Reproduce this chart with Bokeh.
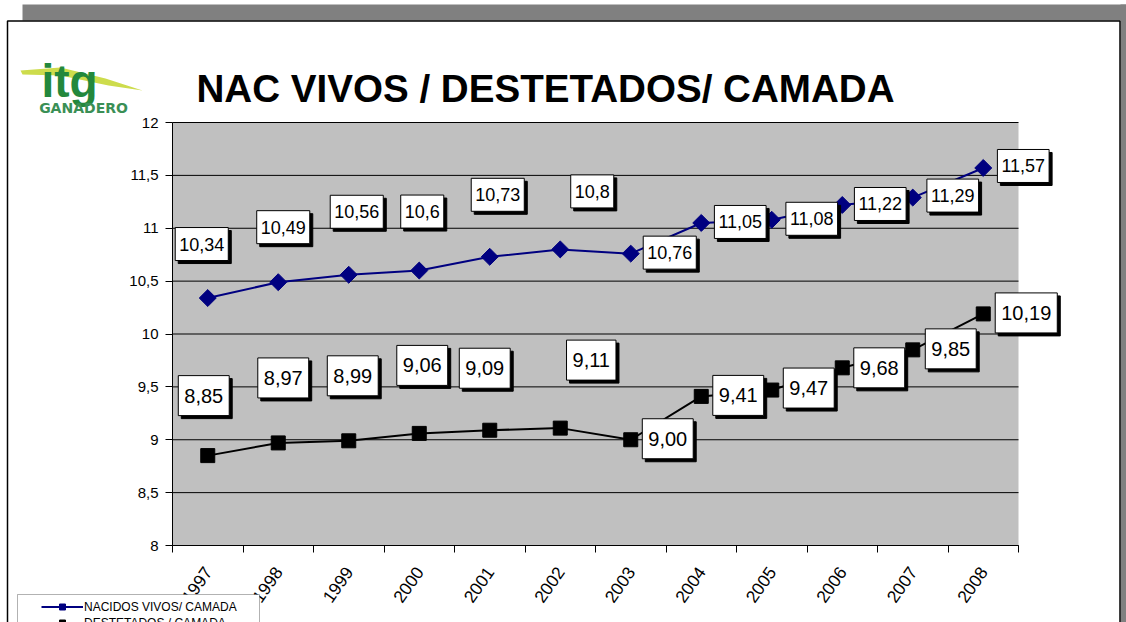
import math
from bokeh.plotting import figure
from bokeh.models import (ColumnDataSource, Label, Legend, LegendItem, LinearAxis,
                          FixedTicker, Range1d, CustomJSTickFormatter, BoxAnnotation)
from bokeh.embed import file_html
from bokeh.resources import INLINE
from bokeh.core.properties import value

# ---------------- data ----------------
years = ["1997", "1998", "1999", "2000", "2001", "2002",
         "2003", "2004", "2005", "2006", "2007", "2008"]
nacidos = [10.34, 10.49, 10.56, 10.6, 10.73, 10.8, 10.76, 11.05, 11.08, 11.22, 11.29, 11.57]
destetados = [8.85, 8.97, 8.99, 9.06, 9.09, 9.11, 9.00, 9.41, 9.47, 9.68, 9.85, 10.19]
nacidos_text = ["10,34", "10,49", "10,56", "10,6", "10,73", "10,8",
                "10,76", "11,05", "11,08", "11,22", "11,29", "11,57"]
destetados_text = ["8,85", "8,97", "8,99", "9,06", "9,09", "9,11",
                   "9,00", "9,41", "9,47", "9,68", "9,85", "10,19"]
y_ticks = [8, 8.5, 9, 9.5, 10, 10.5, 11, 11.5, 12]
series_names = ["NACIDOS VIVOS/ CAMADA", "DESTETADOS / CAMADA"]
title_text = "NAC VIVOS / DESTETADOS/ CAMADA"

# ---------------- layout (label offsets in screen px) ----------------
nac_dx = [-6, 5, 8, 3, 8, 32, 39, 39, 40, 38, 40, 40]
nac_dy = [54, 55, 63, 59, 62, 58, 1, 1, 1, 1, 2, 2]
des_dx = [-4, 5, 4, 3, -5, 31, 37, 37, 37, 37, 38, 43]
des_dy = [60, 65, 65, 68, 62, 68, 1, 1, 2, 0, 1, 1]

W, H = 1126, 622
PL, PT, PR, PB = 172, 122, 1018, 545     # plot-area edges on the page (px)
XMAX, YMIN, YMAX = 12, 8, 12
FONT = "Liberation Sans"

xs = [i + 0.5 for i in range(len(years))]


def px(page_x):
    """page pixel x -> data x"""
    return (page_x - PL) * XMAX / (PR - PL)


def py(page_y):
    """page pixel y -> data y"""
    return YMIN + (PB - page_y) * (YMAX - YMIN) / (PB - PT)


# whole canvas is the frame; data coordinates chosen so the plot area sits at PL..PR, PT..PB
p = figure(width=W, height=H, output_backend="svg", toolbar_location=None,
           x_range=Range1d(px(0), px(W)), y_range=Range1d(py(H), py(0)),
           x_axis_type=None, y_axis_type=None, min_border=0)
p.background_fill_color = "white"
p.border_fill_color = "white"
p.outline_line_color = None

# ---------------- slide frame ----------------
p.quad(left=px(22), right=px(W + 20), top=py(4), bottom=py(20),
       fill_color="#808080", line_color=None)
p.quad(left=px(1120), right=px(W + 20), top=py(4), bottom=py(H + 50),
       fill_color="#808080", line_color=None)
p.quad(left=px(7), right=px(1119.5), top=py(20.5), bottom=py(H + 50),
       fill_alpha=0, line_color="black", line_width=1.5)

# ---------------- plot area + grid ----------------
p.quad(left=[0], right=[XMAX], bottom=[YMIN], top=[YMAX],
       fill_color="#C0C0C0", line_color=None)
p.segment(x0=[0] * len(y_ticks), x1=[XMAX] * len(y_ticks), y0=y_ticks, y1=y_ticks,
          line_color="black", line_width=1)

# ---------------- axes ----------------
xaxis = LinearAxis(fixed_location=YMIN, bounds=(0, XMAX),
                   ticker=FixedTicker(ticks=xs, minor_ticks=list(range(XMAX + 1))))
xaxis.major_label_overrides = {x: y for x, y in zip(xs, years)}
xaxis.major_tick_out = 0
xaxis.major_tick_in = 0
xaxis.minor_tick_out = 7
xaxis.minor_tick_in = 0
xaxis.minor_tick_line_color = "black"
xaxis.axis_line_color = "black"
xaxis.major_label_orientation = math.radians(55)
xaxis.major_label_text_font = FONT
xaxis.major_label_text_font_size = "17.5px"
xaxis.major_label_text_color = "black"
xaxis.major_label_standoff = 16
p.add_layout(xaxis, "below")

yaxis = LinearAxis(fixed_location=0, bounds=(YMIN, YMAX),
                   ticker=FixedTicker(ticks=y_ticks, minor_ticks=[]),
                   formatter=CustomJSTickFormatter(code="return String(tick).replace('.', ',');"))
yaxis.major_tick_out = 7
yaxis.major_tick_in = 0
yaxis.axis_line_color = "black"
yaxis.major_tick_line_color = "black"
yaxis.major_label_text_font = FONT
yaxis.major_label_text_font_size = "15px"
yaxis.major_label_text_color = "black"
yaxis.major_label_standoff = 7
p.add_layout(yaxis, "left")

# ---------------- logo ----------------
p.patch(x=[px(20), px(60), px(105), px(142), px(108), px(60), px(22)],
        y=[py(70), py(67), py(78), py(90), py(85), py(75), py(74)],
        fill_color="#cddc4c", line_color=None)
p.text(x=[px(69)], y=[py(80)], text=["itg"], text_align="center",
       text_baseline="alphabetic", text_font=value(FONT),
       text_font_style="bold", text_font_size="46px", text_color="#23883c")
p.text(x=[px(83)], y=[py(107)], text=["GANADERO"], text_align="center",
       text_baseline="alphabetic", text_font=value("DejaVu Sans"), text_font_style="bold",
       text_font_size="14px", text_color="#3a8f55")

# ---------------- title ----------------
p.text(x=[px(545)], y=[py(88)], text=[title_text], text_align="center",
       text_baseline="alphabetic", text_font=value(FONT), text_font_style="bold",
       text_font_size="38.6px", text_color="black")

# ---------------- series ----------------
src_n = ColumnDataSource(dict(x=xs, y=nacidos))
src_d = ColumnDataSource(dict(x=xs, y=destetados))
l1 = p.line("x", "y", source=src_n, line_color="#000080", line_width=2)
s1 = p.scatter("x", "y", source=src_n, marker="square", angle=math.pi / 4, size=12,
               fill_color="#000080", line_color="#000080")
l2 = p.line("x", "y", source=src_d, line_color="black", line_width=2)
s2 = p.scatter("x", "y", source=src_d, marker="square", size=14,
               fill_color="black", line_color="black")

# ---------------- data labels (white boxes with drop shadow) ----------------
for vals, texts, dxs, dys, fs, pad in (
        (nacidos, nacidos_text, nac_dx, nac_dy, "18px", dict(x=4, y=10)),
        (destetados, destetados_text, des_dx, des_dy, "20px", dict(x=6, y=13))):
    for x, v, t, ddx, ddy in zip(xs, vals, texts, dxs, dys):
        p.add_layout(Label(x=x, y=v, x_offset=ddx + 3, y_offset=ddy - 3, text=t,
                           text_align="center", text_baseline="middle",
                           text_font=FONT, text_font_size=fs, text_color="black",
                           background_fill_color="black", border_line_color="black",
                           padding=pad))
        p.add_layout(Label(x=x, y=v, x_offset=ddx, y_offset=ddy, text=t,
                           text_align="center", text_baseline="middle",
                           text_font=FONT, text_font_size=fs, text_color="black",
                           background_fill_color="white", border_line_color="black",
                           border_line_width=1, padding=pad))

# ---------------- legend ----------------
p.add_layout(BoxAnnotation(left=px(17), right=px(259), top=py(594), bottom=py(H + 40),
                           fill_color="white", fill_alpha=1, line_color="black",
                           line_width=1))
legend = Legend(items=[LegendItem(label=series_names[0], renderers=[l1, s1]),
                       LegendItem(label=series_names[1], renderers=[l2, s2])],
                location=(41, -8),
                padding=2, margin=0, spacing=1, glyph_width=42, glyph_height=15,
                label_height=15, label_standoff=1,
                label_text_font=FONT, label_text_font_size="12px",
                label_text_color="black",
                border_line_color=None, background_fill_alpha=0)
p.add_layout(legend, "center")

open("out.html", "w").write(file_html(p, INLINE))
